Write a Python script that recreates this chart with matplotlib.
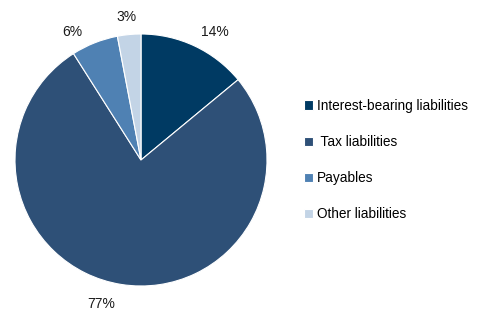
import matplotlib.pyplot as plt

labels = ["Interest-bearing liabilities", " Tax liabilities", "Payables", "Other liabilities"]
values = [14, 77, 6, 3]
colors = ["#003A63", "#2E5077", "#4F81B3", "#C3D4E6"]

# where the percentage labels sit (in pie radius units), as placed in the original
label_xy = [(0.587, 1.012), (-0.313, -1.143), (-0.548, 1.012), (-0.119, 1.131)]

plt.rcParams["font.family"] = ["Liberation Sans", "DejaVu Sans"]

fig = plt.figure(figsize=(4.81, 3.23), dpi=100)
ax = fig.add_axes([15 / 481, 37 / 323, 252 / 481, 252 / 323])

wedges, texts, autotexts = ax.pie(
    values, colors=colors, startangle=90, counterclock=False,
    autopct="%d%%", pctdistance=1.16,
    wedgeprops={"edgecolor": "white", "linewidth": 0.8},
    textprops={"fontsize": 10, "color": "#1a1a1a"},
)
for t, xy in zip(autotexts, label_xy):
    t.set_position(xy)
ax.set_xlim(-1, 1)
ax.set_ylim(-1, 1)
ax.set_aspect("equal")

fig.legend(wedges, labels, loc="center left", bbox_to_anchor=(292 / 481, 0.505),
           frameon=False, fontsize=9.8, handlelength=0.65, handleheight=0.65,
           handletextpad=0.3, labelspacing=1.62)

fig.savefig("out.png", dpi=100)
